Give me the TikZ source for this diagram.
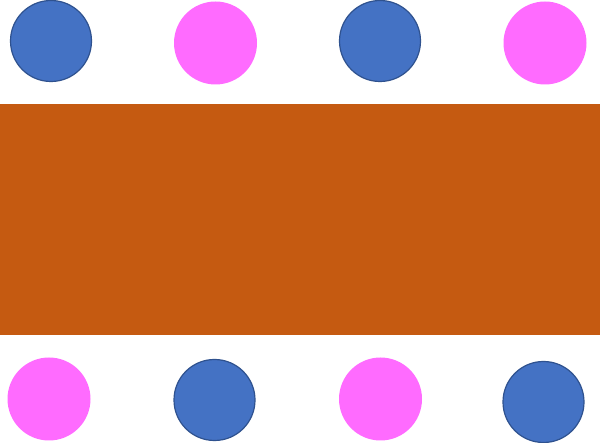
\documentclass[tikz,border=0pt]{standalone}
\definecolor{cblue}{HTML}{4472C4}
\definecolor{cblueedge}{HTML}{2F528F}
\definecolor{cpink}{HTML}{FF6BFF}
\definecolor{corange}{HTML}{C55A11}
\begin{document}
\begin{tikzpicture}[x=1pt,y=-1pt,
  bluedot/.style={circle,fill=cblue,draw=cblueedge,line width=1.2pt,minimum size=81pt,inner sep=0pt},
  pinkdot/.style={circle,fill=cpink,draw=none,minimum size=83pt,inner sep=0pt},
  band/.style={fill=corange,draw=none}]
\useasboundingbox (0,0) rectangle (600,443);
\fill[white] (0,0) rectangle (600,443);
\path[band] (0,104) rectangle (600,335.5);
\node[bluedot] (t1) at (51,41) {};
\node[pinkdot] (t2) at (215.5,43) {};
\node[bluedot] (t3) at (380,41) {};
\node[pinkdot] (t4) at (545,43) {};
\node[pinkdot] (b1) at (49,399) {};
\node[bluedot] (b2) at (214.5,400) {};
\node[pinkdot] (b3) at (380.5,399) {};
\node[bluedot] (b4) at (543.5,402) {};
\end{tikzpicture}
\end{document}
